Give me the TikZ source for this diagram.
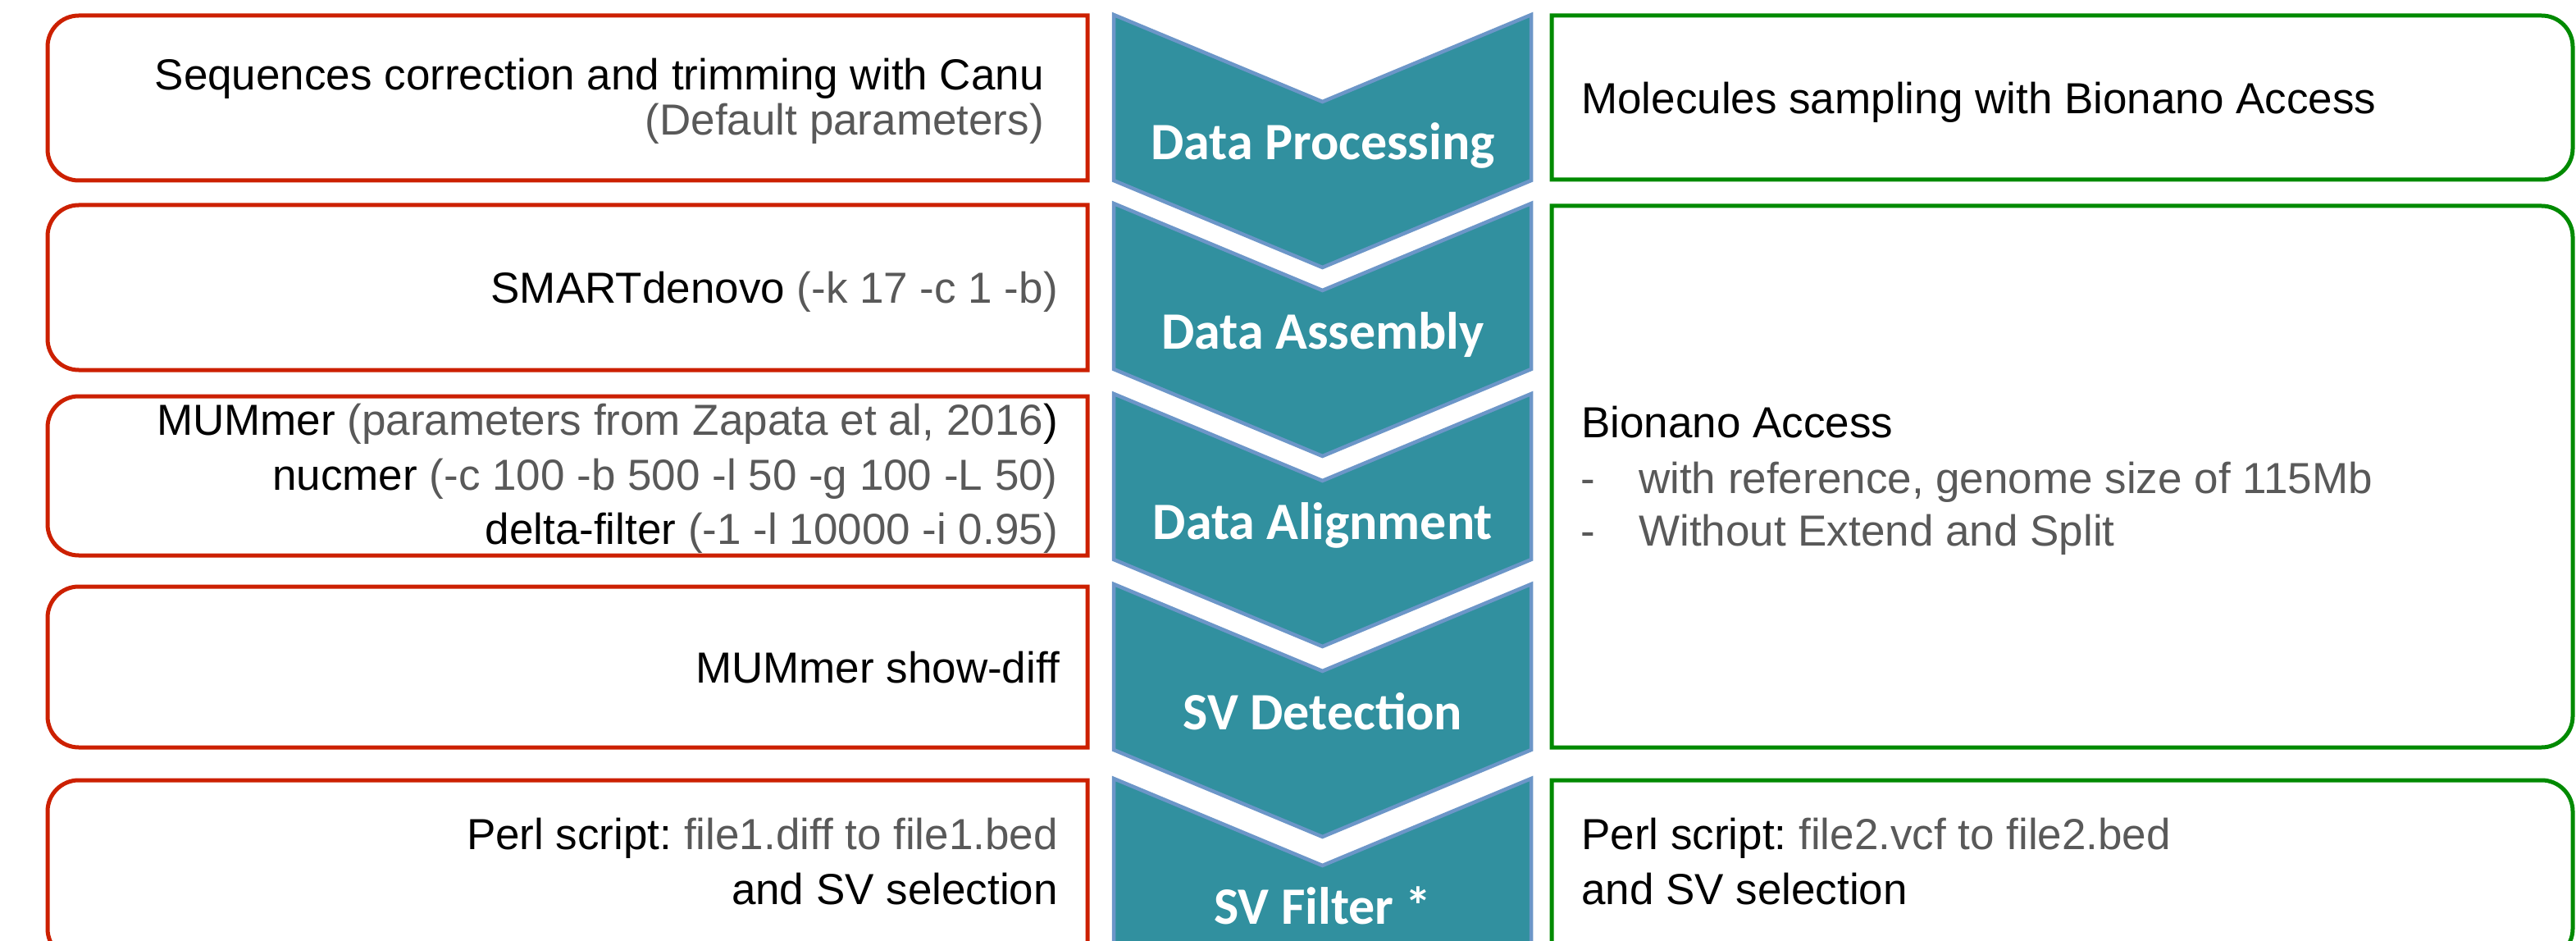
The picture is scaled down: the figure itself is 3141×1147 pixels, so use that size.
\documentclass[tikz,border=0pt]{standalone}
\usepackage{fontspec}
\setmainfont{Liberation Sans}
\newfontfamily\chevfont{Carlito}
\definecolor{tealfill}{RGB}{49,144,159}
\definecolor{chevline}{RGB}{108,150,200}
\definecolor{redc}{RGB}{204,32,0}
\definecolor{greenc}{RGB}{0,138,0}
\definecolor{txtgray}{RGB}{89,89,89}
\newcommand{\gr}[1]{\textcolor{txtgray}{#1}}
\frenchspacing
\tikzset{
  chevshape/.style={fill=tealfill, draw=chevline, line width=4.5pt, line join=miter},
  chevlabel/.style={anchor=base, inner sep=0pt, text=white, font=\chevfont\bfseries\fontsize{64}{72}\selectfont},
  redbox/.style={draw=redc, line width=5pt, fill=white},
  greenbox/.style={draw=greenc, line width=5pt, fill=white},
  rtxt/.style={anchor=base east, inner sep=0pt, font=\fontsize{53}{64}\selectfont},
  ltxt/.style={anchor=base west, inner sep=0pt, font=\fontsize{53}{64}\selectfont},
}
\begin{document}
\begin{tikzpicture}[x=1pt,y=-1pt]
\useasboundingbox (0,0) rectangle (3141,1147);
\clip (0,0) rectangle (3141,1147);
\fill[white] (0,0) rectangle (3141,1147);
% red boxes (left corners rounded)
\foreach \t/\b in {19/220, 250/451, 483/677, 715/911, 951/1170}{
  \draw[redbox] (1326,\t) -- (96,\t) arc[start angle=-90, end angle=-180, radius=38]
    -- (58,{\b-38}) arc[start angle=180, end angle=90, radius=38] -- (1326,\b) -- cycle;
}
% green boxes (right corners rounded)
\foreach \t/\b in {19/219, 251/911, 951/1170}{
  \draw[greenbox] (1892,\t) -- (3099,\t) arc[start angle=-90, end angle=0, radius=38]
    -- (3137,{\b-38}) arc[start angle=0, end angle=90, radius=38] -- (1892,\b) -- cycle;
}
% chevrons
\foreach \t in {18, 248, 480, 712, 949}{
  \draw[chevshape] (1358,\t) -- (1612.5,{\t+106}) -- (1867,\t) -- (1867,{\t+202})
    -- (1612.5,{\t+308}) -- (1358,{\t+202}) -- cycle;
}
\node[chevlabel] (c1) at (1613,195) {Data Processing};
\node[chevlabel] (c2) at (1613,425) {Data Assembly};
\node[chevlabel] (c3) at (1613,657) {Data Alignment};
\node[chevlabel] (c4) at (1613,889) {SV Detection};
\node[chevlabel] (c5) at (1613,1126) {SV Filter *};
% left column texts
\node[rtxt] (r1a) at (1273,110) {Sequences correction and trimming with Canu};
\node[rtxt] (r1b) at (1273,165) {\gr{(Default parameters)}};
\node[rtxt] (r2) at (1290,370) {SMARTdenovo \gr{(-k 17 -c 1 -b)}};
\node[rtxt] (r3a) at (1290,530) {MUMmer \gr{(parameters from Zapata et al, 2016})};
\node[rtxt] (r3b) at (1290,597) {nucmer \gr{(-c 100 -b 500 -l 50 -g 100 -L 50)}};
\node[rtxt] (r3c) at (1290,663) {delta-filter \gr{(-1 -l 10000 -i 0.95)}};
\node[rtxt] (r4) at (1292,832) {MUMmer show-diff};
\node[rtxt] (r5a) at (1290,1035) {Perl script: \gr{file1.diff to file1.bed}};
\node[rtxt] (r5b) at (1290,1102) {and SV selection};
% right column texts
\node[ltxt] (g1) at (1928,139) {Molecules sampling with Bionano Access};
\node[ltxt] (g2a) at (1928,533) {Bionano Access};
\node[ltxt] (g2bd) at (1927,601) {\gr{-}};
\node[ltxt] (g2b) at (1998,601) {\gr{with reference, genome size of 115Mb}};
\node[ltxt] (g2cd) at (1927,665) {\gr{-}};
\node[ltxt] (g2c) at (1998,665) {\gr{Without Extend and Split}};
\node[ltxt] (g3a) at (1928,1035) {Perl script: \gr{file2.vcf to file2.bed}};
\node[ltxt] (g3b) at (1928,1102) {and SV selection};
\end{tikzpicture}
\end{document}
